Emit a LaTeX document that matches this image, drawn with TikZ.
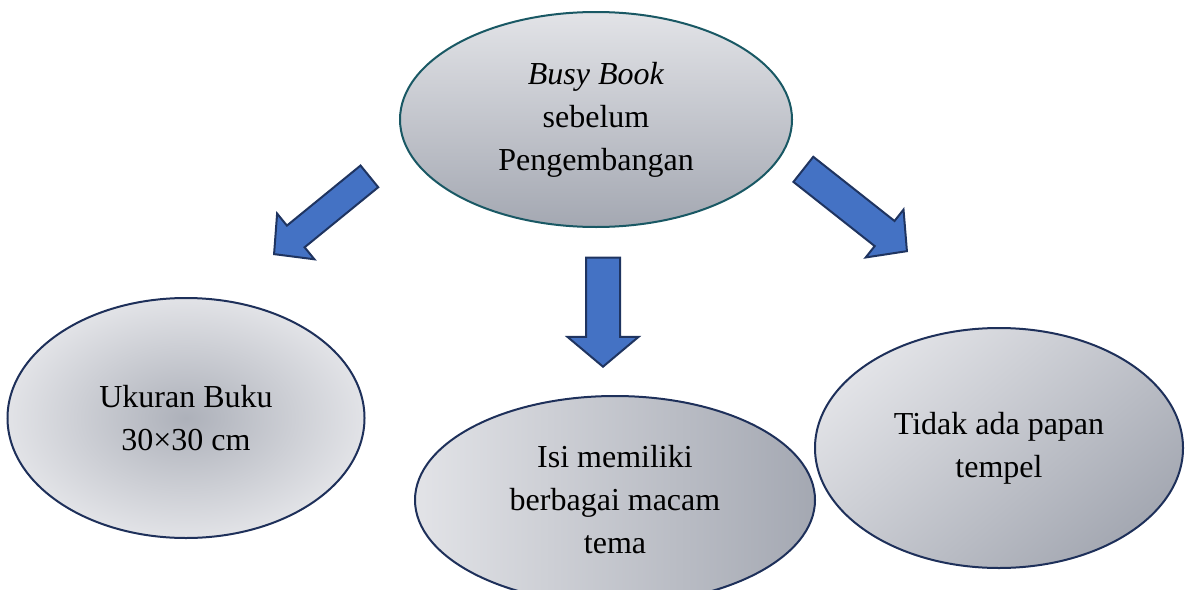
\documentclass[tikz,border=0pt]{standalone}
\usepackage{fontspec}
\setmainfont{Liberation Serif}
\usepackage{tikz}
\usetikzlibrary{shapes.geometric,shapes.arrows}
\definecolor{tealline}{RGB}{25,88,100}
\definecolor{navyline}{RGB}{30,48,90}
\definecolor{arrowblue}{RGB}{68,114,196}
\definecolor{arrowline}{RGB}{31,52,96}
\definecolor{greylight}{RGB}{226,227,231}
\definecolor{greydark}{RGB}{164,168,178}
\tikzset{
	bubble/.style={
		ellipse, draw=navyline, line width=1pt,
		inner sep=0pt, align=center, text=black,
		font=\fontsize{16}{21.5}\selectfont
	},
	blockarrow/.style={
		single arrow, draw=arrowline, fill=arrowblue,
		line width=1pt, inner xsep=0pt, minimum width=0pt,
		anchor=tip
	}
}
\begin{document}
\begin{tikzpicture}[x=0.5pt,y=-0.5pt]
				\useasboundingbox (0,0) rectangle (1193,589);
				\node[bubble, draw=tealline, minimum width=196pt, minimum height=107.5pt,
					top color=greylight, bottom color=greydark] (busy) at (596,119.5)
					{\textit{Busy Book}\\sebelum\\Pengembangan};
				\node[bubble, minimum width=178.5pt, minimum height=120pt,
					inner color=greydark!90, outer color=greylight] (ukuran) at (186,418)
					{Ukuran Buku\\30×30 cm};
				\node[bubble, minimum width=200pt, minimum height=104pt,
					left color=greylight, right color=greydark] (isi) at (615,500)
					{Isi memiliki\\berbagai macam\\tema};
				\node[bubble, minimum width=184pt, minimum height=120pt,
					top color=greylight, bottom color=greydark, shading angle=40] (tidak) at (999,448)
					{Tidak ada papan\\tempel};
				\node[blockarrow, rotate=219.2, minimum height=61.5pt, inner ysep=6.5pt,
					single arrow head extend=7.75pt, single arrow tip angle=93] (arrL) at (273,255) {};
				\node[blockarrow, rotate=-90, minimum height=54.5pt, inner ysep=8pt,
					single arrow head extend=9.25pt, single arrow tip angle=100] (arrM) at (603,368) {};
				\node[blockarrow, rotate=-38.3, minimum height=66pt, inner ysep=7.5pt,
					single arrow head extend=7.25pt, single arrow tip angle=94] (arrR) at (908,252) {};
			\end{tikzpicture}
\end{document}
